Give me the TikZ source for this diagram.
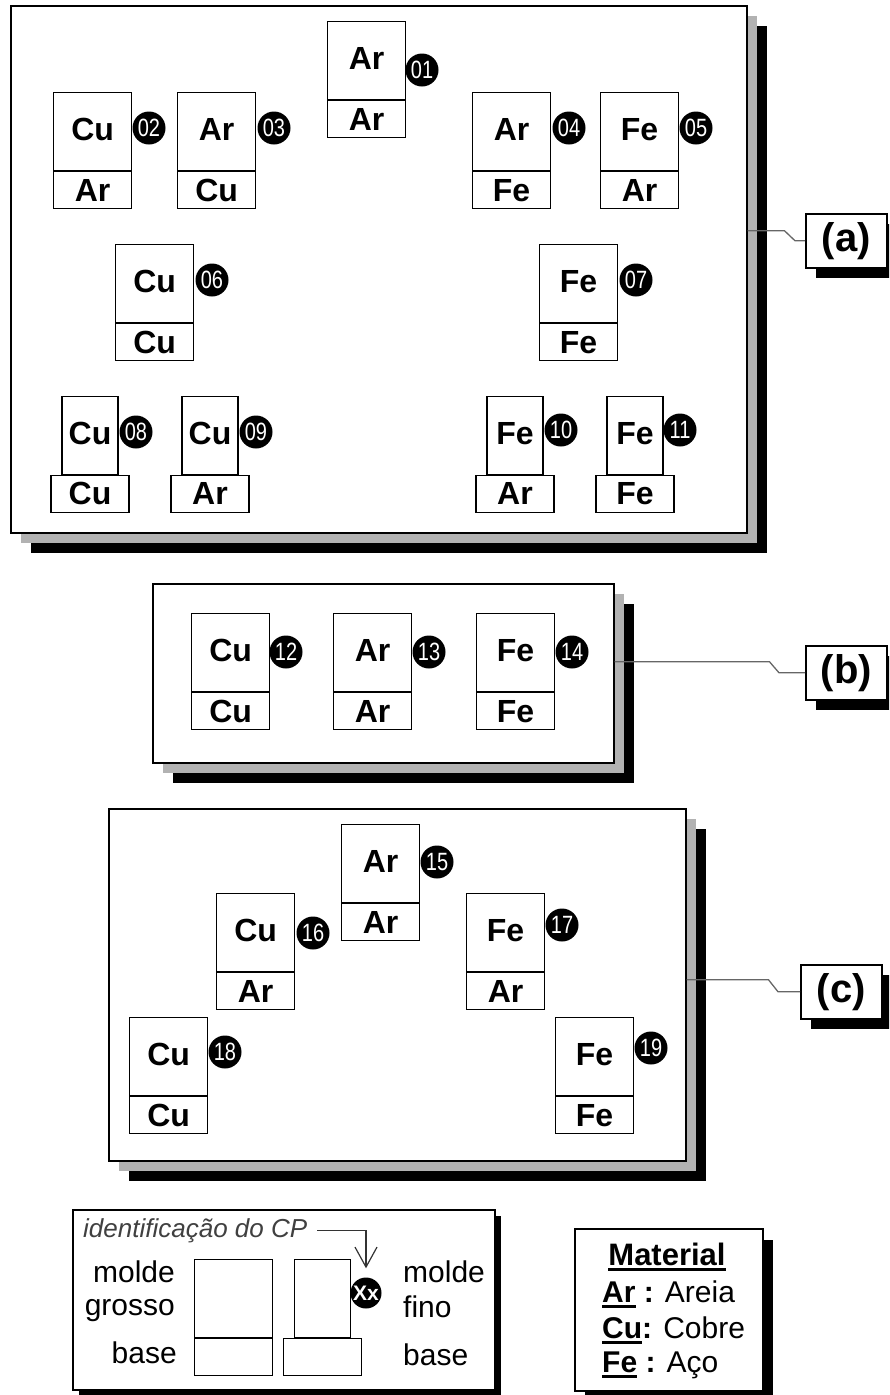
\documentclass[tikz,border=0pt]{standalone}
\usepackage{fontspec}
\setmainfont{Liberation Sans}
\newfontfamily\numfont[FakeStretch=0.8]{Liberation Sans}
\usetikzlibrary{shadows,arrows.meta}
\newcommand\myul[1]{\setbox0\hbox{#1}\rlap{\rule[-5.5pt]{\wd0}{3pt}}\box0\relax}
\newcommand\cpT[7]{%
  \node[mbox, minimum width=78pt, anchor=north west] (t#1) at (#2,#3) {};
  \node[bbox, anchor=north] (b#1) at (t#1.south) {};
  \node[mat, anchor=base] (tt#1) at ([yshift=-48pt]t#1.north) {#4};
  \node[mat, anchor=base] (bt#1) at ([yshift=-30pt]b#1.north) {#5};
  \node[num] (n#1) at (#6,#7) {#1};
}
\newcommand\cpS[7]{%
  \node[mbox, minimum width=56pt, anchor=north] (t#1) at (#2+28,#3) {};
  \node[bbox, anchor=north] (b#1) at (t#1.south) {};
  \node[mat, anchor=base] (tt#1) at ([yshift=-48pt]t#1.north) {#4};
  \node[mat, anchor=base] (bt#1) at ([yshift=-29pt]b#1.north) {#5};
  \node[num] (n#1) at (#6,#7) {#1};
}
\tikzset{
  panel/.style={draw=black, line width=1.5pt, fill=white,
    general shadow={shadow xshift=20pt, shadow yshift=-20pt, fill=black},
    general shadow={shadow xshift=10pt, shadow yshift=-10pt, fill=black!30},
    anchor=north west, inner sep=0},
  lab/.style={draw, line width=1.5pt, fill=white,
    general shadow={shadow xshift=10pt, shadow yshift=-10pt, fill=black},
    minimum width=81pt, minimum height=54pt, inner sep=0,
    font=\bfseries\fontsize{40}{40}\selectfont},
  mbox/.style={draw, line width=1.2pt, fill=white, inner sep=0, minimum height=78pt},
  bbox/.style={draw, line width=1.2pt, fill=white, inner sep=0, minimum height=37pt, minimum width=78pt},
  mat/.style={inner sep=0, font=\bfseries\fontsize{32}{32}\selectfont},
  num/.style={circle, fill=black, inner sep=-6pt, minimum size=33pt, text=white,
    font=\numfont\fontsize{25}{25}\selectfont},
  conn/.style={draw=black!60, line width=1.3pt},
  leg/.style={inner sep=0, font=\fontsize{30}{30}\selectfont},
}
\begin{document}
\begin{tikzpicture}[x=1pt, y=-1pt]
\useasboundingbox (0,0) rectangle (889,1395);
\clip (0,0) rectangle (889,1395);
% panels
\node[panel, minimum width=736pt, minimum height=527pt] (pa) at (10,5) {};
\node[panel, minimum width=461pt, minimum height=179pt] (pb) at (152,583) {};
\node[panel, minimum width=577pt, minimum height=352pt] (pc) at (108,808) {};
% labels
\node[lab, anchor=north west] (la) at (805,213) {(a)};
\node[lab, anchor=north west] (lb) at (805,645) {(b)};
\node[lab, anchor=north west] (lc) at (800,964) {(c)};
\draw[conn] ([yshift=38.5pt]pa.east) -- ++(37,0) -- ([xshift=-10pt]la.west) -- (la.west);
\draw[conn] ([yshift=11.5pt]pb.east) -- ++(155,0) -- ([xshift=-26pt]lb.west) -- (lb.west);
\draw[conn] ([yshift=5pt]pc.east) -- ++(82,0) -- ([xshift=-22pt]lc.west) -- (lc.west);
% specimens (a)
\cpT{01}{327}{21}{Ar}{Ar}{422}{70}
\cpT{02}{53}{92}{Cu}{Ar}{149}{128}
\cpT{03}{177}{92}{Ar}{Cu}{274}{128}
\cpT{04}{472}{92}{Ar}{Fe}{569}{128}
\cpT{05}{600}{92}{Fe}{Ar}{696}{128}
\cpT{06}{115}{244}{Cu}{Cu}{212}{280}
\cpT{07}{539}{244}{Fe}{Fe}{636}{280}
\cpS{08}{62}{396}{Cu}{Cu}{136}{432}
\cpS{09}{182}{396}{Cu}{Ar}{256}{432}
\cpS{10}{487}{396}{Fe}{Ar}{561}{430}
\cpS{11}{607}{396}{Fe}{Fe}{680}{430}
% (b)
\cpT{12}{191}{613}{Cu}{Cu}{286}{652}
\cpT{13}{333}{613}{Ar}{Ar}{429}{652}
\cpT{14}{476}{613}{Fe}{Fe}{572}{652}
% (c)
\cpT{15}{341}{824}{Ar}{Ar}{437}{862}
\cpT{16}{216}{893}{Cu}{Ar}{313}{933}
\cpT{17}{466}{893}{Fe}{Ar}{562}{925}
\cpT{18}{129}{1017}{Cu}{Cu}{225}{1052}
\cpT{19}{555}{1017}{Fe}{Fe}{651}{1048}
% legend left
\node[draw, line width=1.5pt, fill=white,
  general shadow={shadow xshift=6pt, shadow yshift=-6pt, fill=black},
  anchor=north west, minimum width=422pt, minimum height=180pt, inner sep=0] (lg) at (72,1209) {};
\node[font=\itshape\fontsize{26}{26}\selectfont, text=black!75, anchor=base west, inner sep=0] (idt) at (83,1237) {identificação do CP};
\node[mbox, minimum width=78pt, anchor=north west] (gt) at (194,1259) {};
\node[bbox, anchor=north] (gb) at (gt.south) {};
\node[mbox, minimum width=56pt, anchor=north west] (ft) at (294,1259) {};
\node[bbox, anchor=north] (fb) at (ft.south) {};
\node[num, minimum size=31pt, font=\bfseries\fontsize{21}{21}\selectfont] (xx) at (366,1293) {Xx};
\draw[line width=1.2pt, black!80, -{Straight Barb[length=20pt,width=22pt]}, shorten <=10pt, shorten >=9pt] (idt.east) -| (xx.north);
\node[leg, anchor=base east] (lm1) at (175,1282) {molde};
\node[leg, anchor=base east] (lm2) at (175,1315) {grosso};
\node[leg, anchor=base east] (lm3) at (177,1363) {base};
\node[leg, anchor=base west] (rm1) at (403,1282) {molde};
\node[leg, anchor=base west] (rm2) at (403,1317) {fino};
\node[leg, anchor=base west] (rm3) at (403,1365) {base};
% legend right
\node[draw, line width=1.5pt, fill=white,
  general shadow={shadow xshift=10pt, shadow yshift=-11pt, fill=black},
  anchor=north west, minimum width=188pt, minimum height=162pt, inner sep=0] (mg) at (574,1228) {};
\node[anchor=base, inner sep=0, font=\bfseries\fontsize{31}{31}\selectfont] (mt) at (667,1265) {\myul{Material}};
\node[leg, anchor=base west] (m1) at (602,1302) {\myul{\textbf{Ar}} \textbf{:} Areia};
\node[leg, anchor=base west] (m2) at (602,1338) {\myul{\textbf{Cu}}\textbf{:} Cobre};
\node[leg, anchor=base west] (m3) at (602,1372) {\myul{\textbf{Fe}} \textbf{:} Aço};
\end{tikzpicture}
\end{document}
